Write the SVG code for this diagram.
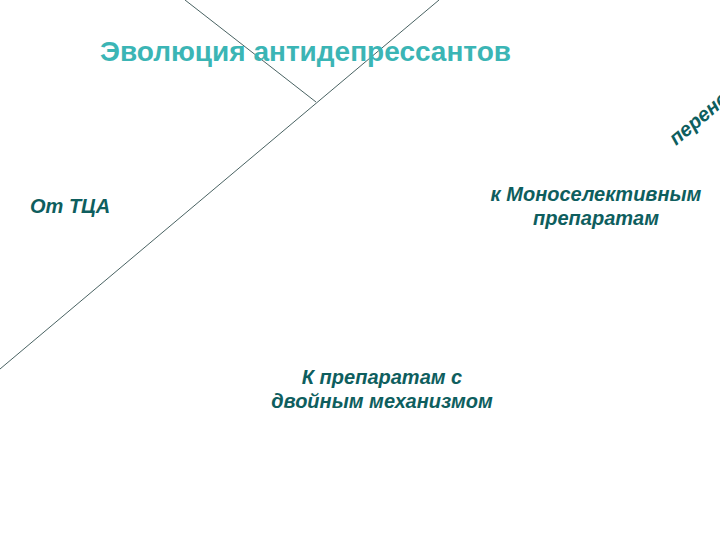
<svg xmlns="http://www.w3.org/2000/svg" width="720" height="540" viewBox="0 0 720 540">
<style>
.t{font-family:"Liberation Sans",Arial,sans-serif;font-weight:bold;fill:#3bb5b5;font-size:28px}
.l{font-family:"Liberation Sans",Arial,sans-serif;font-weight:bold;font-style:italic;fill:#0e5e5e;font-size:20px}
.c{stroke:#1a3a3a;stroke-width:0.8;fill:none}
</style>
<rect width="720" height="540" fill="#ffffff"/>
<g id="connectors">
<line class="c" x1="185" y1="0" x2="316" y2="102"/>
<line class="c" x1="439" y1="0" x2="0" y2="369"/>
</g>
<g id="title"><text class="t" x="100" y="61">Эволюция антидепрессантов</text></g>
<g id="tca"><text class="l" x="30" y="213" font-size="19">От ТЦА</text></g>
<g id="mono"><text class="l" x="596" y="201" text-anchor="middle">к Моноселективным</text><text class="l" x="596" y="225" text-anchor="middle">препаратам</text></g>
<g id="dual"><text class="l" x="382" y="384" text-anchor="middle">К препаратам с</text><text class="l" x="382" y="408" text-anchor="middle">двойным механизмом</text></g>
<g id="transfer"><text class="l" font-size="15" transform="translate(676,146) rotate(-40)">перенос</text></g>
</svg>
